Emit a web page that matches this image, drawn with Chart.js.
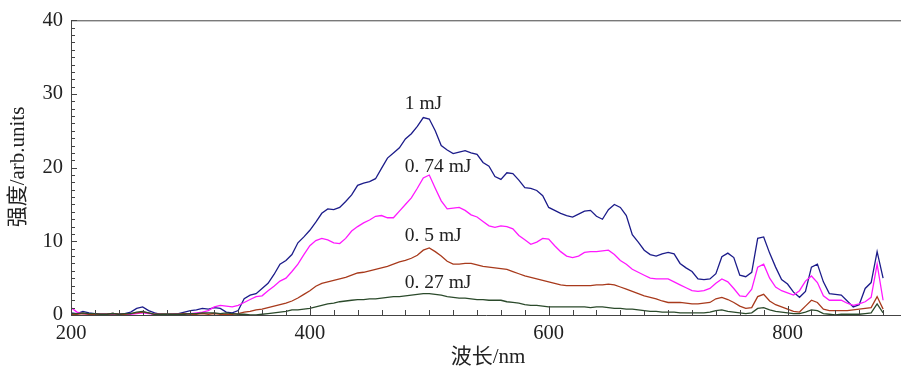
<!DOCTYPE html>
<html>
<head>
<meta charset="utf-8">
<script src="https://cdn.jsdelivr.net/npm/chart.js@4/dist/chart.umd.min.js"></script>
<style>
  html, body { margin: 0; padding: 0; background: #fff; }
  #wrap { width: 901px; height: 372px; }
</style>
</head>
<body>
<div id="wrap"><canvas id="spectrumChart" width="901" height="372"></canvas></div>
<script>
// wavelength grid, 5 nm steps (200 .. 880)
const wavelengths = [];
for (let w = 200; w <= 880; w += 5) wavelengths.push(w);

const xTickValues = [200, 400, 600, 800];
const yTickValues = [0, 10, 20, 30, 40];

const energyLabels = ['1 mJ', '0. 74 mJ', '0. 5 mJ', '0. 27 mJ'];

const series1mJ = [
  0.3, 0.2, 0.5, 0.3, 0.2, 0.1, 0.1, 0.2, 0.1, 0.2,
  0.4, 0.9, 1.1, 0.6, 0.3, 0.1, 0.1, 0.1, 0.2, 0.4,
  0.6, 0.7, 0.9, 0.8, 1.0, 0.9, 0.4, 0.3, 0.6, 2.2,
  2.7, 2.9, 3.6, 4.3, 5.5, 6.9, 7.4, 8.2, 9.8, 10.6,
  11.5, 12.6, 13.8, 14.4, 14.3, 14.6, 15.4, 16.3, 17.6, 17.9,
  18.1, 18.5, 19.9, 21.3, 22.0, 22.7, 23.9, 24.6, 25.6, 26.8,
  26.6, 25.0, 23.0, 22.4, 21.9, 22.1, 22.3, 22.0, 21.8, 20.7,
  20.2, 18.8, 18.4, 19.3, 19.2, 18.3, 17.3, 17.2, 16.9, 16.2,
  14.6, 14.2, 13.8, 13.5, 13.3, 13.7, 14.1, 14.2, 13.4, 13.0,
  14.3, 15.0, 14.6, 13.5, 10.9, 9.9, 8.8, 8.2, 8.0, 8.3,
  8.5, 8.3, 7.0, 6.4, 5.9, 4.9, 4.8, 4.9, 5.6, 7.9,
  8.4, 7.8, 5.4, 5.2, 5.8, 10.4, 10.6, 8.4, 6.5, 4.8,
  4.2, 3.1, 2.4, 3.2, 6.5, 6.9, 4.5, 2.9, 2.8, 2.7,
  1.9, 1.1, 1.4, 3.6, 4.4, 8.6, 5.0
];

const series074mJ = [
  1.0, 0.4, 0.2, 0.1, 0.1, 0.1, 0.1, 0.1, 0.1, 0.1,
  0.1, 0.2, 0.3, 0.2, 0.1, 0.1, 0.0, 0.1, 0.1, 0.1,
  0.2, 0.3, 0.4, 0.6, 1.1, 1.3, 1.2, 1.1, 1.3, 1.7,
  2.1, 2.5, 2.6, 3.3, 3.9, 4.6, 5.0, 5.9, 6.9, 8.2,
  9.4, 10.1, 10.4, 10.2, 9.8, 9.7, 10.4, 11.4, 12.0, 12.5,
  12.9, 13.4, 13.5, 13.2, 13.2, 14.1, 15.0, 15.9, 17.2, 18.6,
  19.0, 17.2, 15.5, 14.4, 14.5, 14.6, 14.2, 13.6, 13.3, 12.7,
  12.1, 11.9, 12.1, 12.0, 11.7, 10.8, 10.2, 9.6, 9.9, 10.4,
  10.3, 9.4, 8.6, 8.0, 7.8, 8.0, 8.5, 8.6, 8.6, 8.7,
  8.8, 8.2, 7.4, 6.9, 6.2, 5.8, 5.4, 5.0, 4.9, 4.9,
  4.9, 4.5, 4.1, 3.7, 3.3, 3.2, 3.3, 3.6, 4.3, 4.9,
  4.5, 3.6, 2.6, 2.5, 3.5, 6.5, 6.9, 5.0, 3.8, 3.3,
  3.0, 2.7, 3.3, 4.6, 5.3, 4.4, 2.6, 2.0, 2.0, 2.0,
  1.6, 1.3, 1.5, 1.8, 2.4, 6.9, 2.0
];

const series05mJ = [
  0.1, 0.1, 0.2, 0.1, 0.1, 0.1, 0.1, 0.2, 0.1, 0.1,
  0.2, 0.3, 0.4, 0.3, 0.1, 0.1, 0.1, 0.1, 0.1, 0.2,
  0.1, 0.1, 0.2, 0.1, 0.2, 0.1, 0.1, 0.1, 0.2, 0.4,
  0.5, 0.7, 0.8, 1.0, 1.2, 1.4, 1.6, 1.9, 2.3, 2.8,
  3.3, 3.9, 4.3, 4.5, 4.7, 4.9, 5.1, 5.4, 5.7, 5.8,
  6.0, 6.2, 6.4, 6.6, 6.9, 7.2, 7.4, 7.7, 8.1, 8.8,
  9.1, 8.6, 8.0, 7.3, 6.9, 6.9, 7.0, 7.0, 6.8, 6.6,
  6.5, 6.4, 6.3, 6.2, 5.9, 5.6, 5.3, 5.1, 4.9, 4.7,
  4.5, 4.3, 4.1, 4.0, 4.0, 4.0, 4.0, 4.0, 4.1, 4.1,
  4.2, 4.1, 3.8, 3.5, 3.2, 2.9, 2.6, 2.4, 2.2, 1.9,
  1.7, 1.7, 1.7, 1.6, 1.5, 1.5, 1.6, 1.7, 2.2, 2.4,
  2.1, 1.7, 1.2, 0.9, 1.0, 2.5, 2.8, 1.9, 1.4, 1.1,
  0.8, 0.5, 0.4, 1.2, 2.0, 1.7, 0.8, 0.6, 0.6, 0.6,
  0.6, 0.7, 0.8, 0.9, 1.0, 2.5, 0.8
];

const series027mJ = [
  0.2, 0.2, 0.3, 0.2, 0.2, 0.1, 0.1, 0.2, 0.1, 0.2,
  0.2, 0.4, 0.5, 0.3, 0.1, 0.1, 0.1, 0.1, 0.1, 0.1,
  0.2, 0.2, 0.3, 0.3, 0.3, 0.2, 0.3, 0.2, 0.1, 0.1,
  0.0, 0.0, 0.1, 0.2, 0.3, 0.4, 0.5, 0.7, 0.7, 0.8,
  0.9, 1.1, 1.3, 1.5, 1.6, 1.8, 1.9, 2.0, 2.1, 2.1,
  2.2, 2.2, 2.3, 2.4, 2.5, 2.5, 2.6, 2.7, 2.8, 2.9,
  2.9, 2.8, 2.7, 2.5, 2.4, 2.3, 2.3, 2.2, 2.1, 2.1,
  2.0, 2.0, 2.0, 1.8, 1.7, 1.6, 1.4, 1.3, 1.3, 1.2,
  1.1, 1.1, 1.1, 1.1, 1.1, 1.1, 1.1, 1.0, 1.1, 1.1,
  1.0, 0.9, 0.9, 0.8, 0.8, 0.7, 0.6, 0.5, 0.5, 0.4,
  0.4, 0.4, 0.3, 0.3, 0.3, 0.3, 0.3, 0.4, 0.6, 0.7,
  0.5, 0.4, 0.3, 0.2, 0.3, 0.9, 1.0, 0.7, 0.5, 0.4,
  0.3, 0.2, 0.2, 0.4, 0.7, 0.6, 0.2, 0.1, 0.0, 0.1,
  0.1, 0.1, 0.1, 0.2, 0.3, 1.5, 0.3
];

// label anchor (left edge of text, text middle) in data units
const labelX = 479.5;
const labelY = [28.7, 20.1, 10.8, 4.4];

const lineColors = ['#1c1c8a', '#ff19ff', '#a83a1c', '#2b4a2b'];
const serif = '"Liberation Serif", "Noto Sans CJK SC", serif';

function toPoints(values) {
  return values.map((v, i) => ({ x: wavelengths[i], y: v }));
}

// frame, inward tick marks, axis titles and energy labels
const framePlugin = {
  id: 'frame',
  afterDatasetsDraw(chart) {
    const ctx = chart.ctx;
    const area = chart.chartArea;
    const xs = chart.scales.x;
    const ys = chart.scales.y;
    ctx.save();
    ctx.strokeStyle = '#444';
    ctx.lineWidth = 1;
    ctx.beginPath();
    ctx.moveTo(area.left, area.top + 0.5);
    ctx.lineTo(area.right, area.top + 0.5);
    for (let w = 200; w <= 880; w += 20) {
      const px = Math.round(xs.getPixelForValue(w)) + 0.5;
      const len = (w % 200 === 0) ? 9 : 5;
      ctx.moveTo(px, area.bottom);
      ctx.lineTo(px, area.bottom - len);
    }
    for (let v = 0; v <= 40; v += 1) {
      const py = Math.round(ys.getPixelForValue(v)) + 0.5;
      const len = (v % 10 === 0) ? 6 : 4;
      ctx.moveTo(area.left, py);
      ctx.lineTo(area.left + len, py);
    }
    ctx.stroke();

    ctx.fillStyle = '#222';
    ctx.font = '21px ' + serif;
    ctx.textAlign = 'center';
    ctx.textBaseline = 'middle';
    ctx.fillText('波长/nm', (area.left + area.right) / 2 + 2, 357);

    ctx.save();
    ctx.translate(18, 167);
    ctx.rotate(-Math.PI / 2);
    ctx.fillText('强度/arb.units', 0, 0);
    ctx.restore();

    ctx.font = '19.5px ' + serif;
    ctx.textAlign = 'left';
    energyLabels.forEach((t, i) => {
      ctx.fillText(t, xs.getPixelForValue(labelX), ys.getPixelForValue(labelY[i]));
    });
    ctx.restore();
  }
};

const ctx = document.getElementById('spectrumChart').getContext('2d');
const chart = new Chart(ctx, {
  type: 'line',
  data: {
    datasets: [series1mJ, series074mJ, series05mJ, series027mJ].map((s, i) => ({
      label: energyLabels[i],
      data: toPoints(s),
      borderColor: lineColors[i],
      borderWidth: 1.3,
      pointRadius: 0,
      tension: 0,
      fill: false,
    })).reverse(),
  },
  options: {
    responsive: false,
    animation: false,
    layout: { padding: { left: 0, top: 14, right: 0, bottom: 0 } },
    plugins: {
      legend: { display: false },
      tooltip: { enabled: false },
    },
    scales: {
      x: {
        type: 'linear',
        min: 200,
        max: 895,
        afterFit(s) { s.height = 57; },
        afterBuildTicks(s) { s.ticks = xTickValues.map(v => ({ value: v })); },
        grid: { display: false, drawTicks: false },
        border: { display: true, color: '#444', width: 1 },
        ticks: { color: '#222', font: { family: serif, size: 20.5 }, padding: 6, maxRotation: 0 },
      },
      y: {
        min: 0,
        max: 40,
        afterFit(s) { s.width = 71; },
        afterBuildTicks(s) { s.ticks = yTickValues.map(v => ({ value: v })); },
        grid: { display: false, drawTicks: false },
        border: { display: true, color: '#444', width: 1 },
        ticks: { color: '#222', font: { family: serif, size: 20.5 }, padding: 8 },
      },
    },
  },
  plugins: [framePlugin],
});
</script>
</body>
</html>
